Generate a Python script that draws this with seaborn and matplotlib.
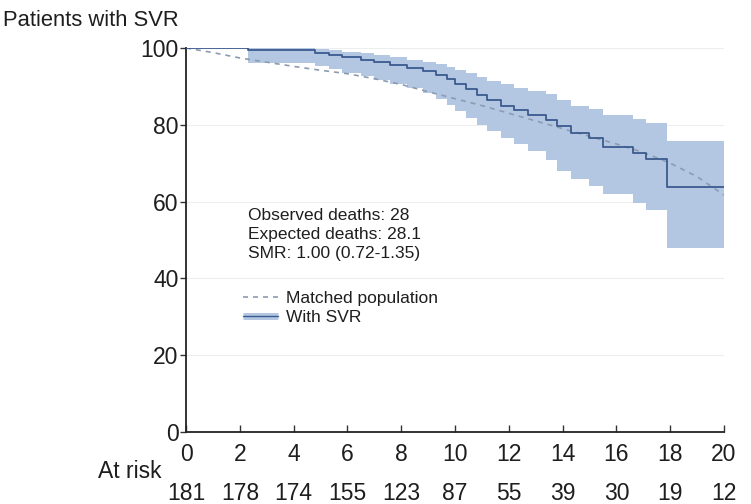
import matplotlib
matplotlib.use("Agg")
import matplotlib.pyplot as plt
import seaborn as sns
import pandas as pd
from matplotlib.lines import Line2D
from matplotlib.legend_handler import HandlerTuple

# Kaplan-Meier estimate for patients with SVR (step times in years, survival in %)
km_time = [0, 2.3, 4.8, 5.3, 5.8, 6.5, 7.0, 7.6, 8.2, 8.8, 9.3, 9.7, 10.0, 10.4,
           10.8, 11.2, 11.7, 12.2, 12.7, 13.4, 13.8, 14.3, 15.0, 15.5, 16.6,
           17.1, 17.9, 20.0]
km_surv = [100, 99.4, 98.8, 98.2, 97.6, 97.0, 96.3, 95.6, 94.8, 94.0, 93.0,
           91.8, 90.5, 89.2, 87.8, 86.4, 85.0, 83.8, 82.6, 81.2, 79.6, 77.8,
           76.5, 74.2, 72.6, 71.0, 63.8, 63.8]
km_lower = [100, 96.2, 95.3, 94.4, 93.6, 92.6, 91.6, 90.6, 89.5, 88.2, 86.8,
            85.2, 83.5, 81.8, 80.0, 78.3, 76.5, 75.0, 73.2, 70.8, 68.0, 66.0,
            64.0, 62.0, 59.5, 57.8, 48.0, 48.0]
km_upper = [100, 100, 99.7, 99.4, 99.0, 98.6, 98.1, 97.6, 97.0, 96.4, 95.8,
            95.0, 94.2, 93.4, 92.5, 91.5, 90.5, 89.6, 88.8, 88.0, 86.5, 85.0,
            84.2, 82.5, 81.5, 80.5, 75.8, 75.8]

# Expected survival of the matched general population
exp_time = list(range(0, 21))
exp_surv = [100, 98.8, 97.4, 96.3, 95.2, 94.2, 93.3, 92.0, 90.5, 88.6, 86.8,
            85.0, 83.0, 81.0, 79.0, 77.0, 75.0, 72.8, 70.0, 66.5, 61.7]

# Numbers at risk
risk_time = [0, 2, 4, 6, 8, 10, 12, 14, 16, 18, 20]
at_risk = [181, 178, 174, 155, 123, 87, 55, 39, 30, 19, 12]

x_ticks = [0, 2, 4, 6, 8, 10, 12, 14, 16, 18, 20]
y_ticks = [0, 20, 40, 60, 80, 100]

stats_lines = ["Observed deaths: 28", "Expected deaths: 28.1",
               "SMR: 1.00 (0.72-1.35)"]

band_color = "#b3c7e3"
line_color = "#3b5b8e"
exp_color = "#8c9bb0"
text_color = "#1e1e1e"

sns.set_theme(style="white")
plt.rcParams["font.family"] = ["Liberation Sans", "DejaVu Sans"]

fig = plt.figure(figsize=(7.51, 5.04), dpi=100)
ax = fig.add_axes([0.2477, 0.1429, 0.7163, 0.7619])

km = pd.DataFrame({"time": km_time, "surv": km_surv})
exp = pd.DataFrame({"time": exp_time, "surv": exp_surv})

for yv in y_ticks:
    ax.axhline(yv, color="#ededed", lw=0.8, zorder=0)

ax.fill_between(km_time, km_lower, km_upper, step="post",
                color=band_color, lw=0, zorder=1)
sns.lineplot(data=exp, x="time", y="surv", ax=ax, color=exp_color,
             lw=1.2, linestyle=(0, (3, 3)), zorder=2)
sns.lineplot(data=km, x="time", y="surv", ax=ax, color=line_color,
             lw=1.3, drawstyle="steps-post", zorder=3)

ax.set_xlim(0, 20)
ax.set_ylim(0, 100)
ax.set_xticks(x_ticks)
ax.set_yticks(y_ticks)
ax.set_xlabel("")
ax.set_ylabel("")
for side in ("top", "right"):
    ax.spines[side].set_visible(False)
for side in ("left", "bottom"):
    ax.spines[side].set_color("#222222")
    ax.spines[side].set_linewidth(1.3)
ax.tick_params(axis="x", direction="in", length=5, width=1, color="#333333",
               labelsize=16.5, pad=8, labelcolor=text_color, bottom=True)
ax.tick_params(axis="y", direction="out", length=4.5, width=1, color="#333333",
               labelsize=16.5, pad=1, labelcolor=text_color, left=True)

fig.text(0.004, 0.960, "Patients with SVR", fontsize=15.8, color=text_color,
         va="center", ha="left")

ax.text(2.3, 51.5, "\n".join(stats_lines), fontsize=12.5, color=text_color,
        va="center", ha="left", linespacing=1.35)

handles = [Line2D([0], [0], color=exp_color, lw=1.2, linestyle=(0, (3, 3))),
           (Line2D([0], [0], color=band_color, lw=5, solid_capstyle="butt"),
            Line2D([0], [0], color=line_color, lw=1.0))]
ax.legend(handles, ["Matched population", "With SVR"],
          handler_map={tuple: HandlerTuple(ndivide=1, pad=0)},
          loc="center left", bbox_to_anchor=(0.106, 0.323), frameon=False,
          fontsize=12.5, handlelength=2.0, handletextpad=0.45,
          labelspacing=0.25, borderpad=0, borderaxespad=0,
          labelcolor=text_color)

# At-risk table below the time axis
fig.text(0.2157, 0.0640, "At risk", fontsize=16.5, color=text_color,
         ha="right", va="center")
for t, n in zip(risk_time, at_risk):
    ax.annotate(str(n), xy=(t, 0), xycoords="data", xytext=(0, -44),
                textcoords="offset points", ha="center", va="center",
                fontsize=16.5, color=text_color, annotation_clip=False)

fig.savefig("out.png", dpi=100)
